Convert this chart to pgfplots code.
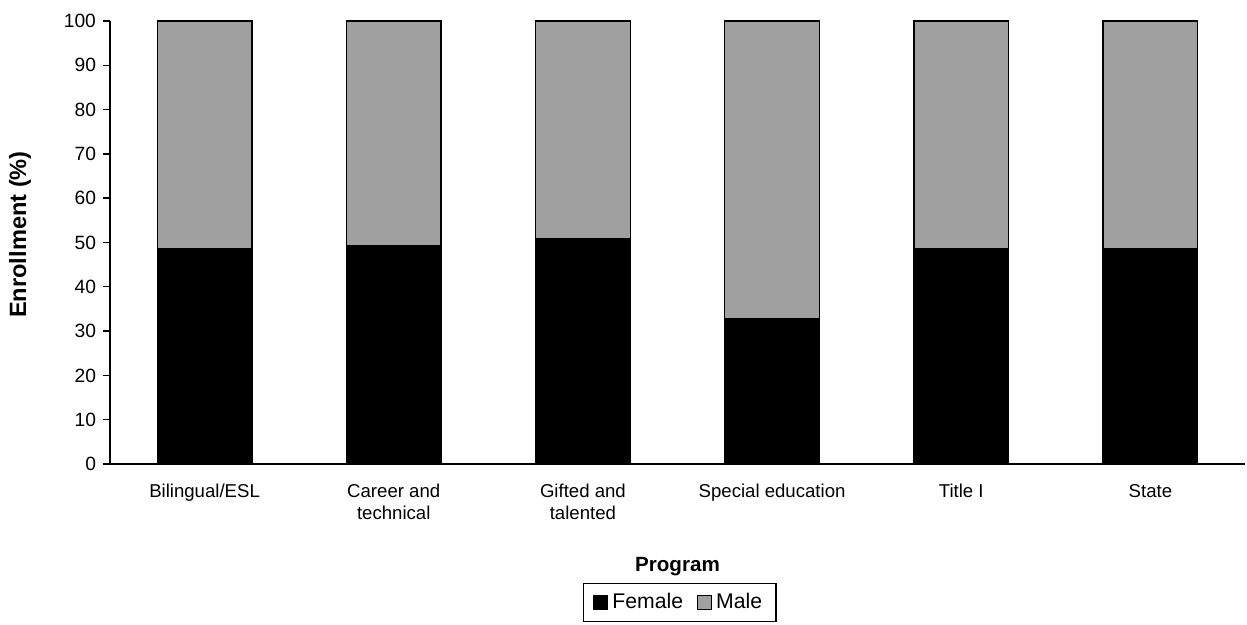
\documentclass[border=0pt]{standalone}
\usepackage{pgfplots}
\pgfplotsset{compat=1.18}
\usepackage{fontspec}
\setmainfont{Liberation Sans}
\definecolor{maleGray}{RGB}{160,160,160}
\begin{document}
\begin{tikzpicture}
\useasboundingbox (-55pt,-80.5pt) rectangle (568.5pt,232pt);
\begin{axis}[
  at={(0pt,0pt)}, anchor=south west,
  scale only axis, width=567.5pt, height=221.5pt,
  ybar stacked, bar width=0.5,
  xmin=-0.5, xmax=5.5, ymin=0, ymax=100,
  axis x line*=bottom, axis y line*=left,
  axis line style={-, line width=0.8pt},
  ytick={0,10,...,100},
  xtick={0,1,2,3,4,5},
  xticklabels={Bilingual/ESL, Career and\\technical, Gifted and\\talented, Special education, Title I, State},
  xtick style={draw=none},
  extra x ticks={-0.5,0.5,1.5,2.5,3.5,4.5,5.5},
  extra x tick labels={},
  extra x tick style={tick style={draw=black, line width=0.7pt}},
  ytick style={draw=black, line width=0.7pt},
  tick align=outside, major tick length=3.5pt,
  /pgf/number format/assume math mode=true,
  ticklabel style={font=\fontsize{9.6}{11}\selectfont},
  xticklabel style={align=center, yshift=-3pt, font=\fontsize{9.3}{11}\selectfont},
  yticklabel style={xshift=0pt},
  xlabel={Program}, ylabel={Enrollment (\%)},
  label style={font=\fontsize{10.3}{12}\selectfont\bfseries},
  xlabel style={at={(axis description cs:0.5,-0.2325)}, anchor=center},
  ylabel style={at={(axis description cs:-0.0793,0.518)}, anchor=center, font=\fontsize{11.8}{14}\selectfont\bfseries},
  legend style={at={(axis description cs:0.502,-0.268)}, anchor=north,
    legend columns=2, draw=black, line width=0.6pt,
    font=\fontsize{10.6}{12}\selectfont,
    /tikz/every even column/.append style={column sep=5pt},
    inner xsep=5pt, inner ysep=3pt},
  legend image code/.code={\draw[#1, line width=0.5pt] (0pt,-3.5pt) rectangle (7pt,3.5pt);},
]
\addplot[fill=black, draw=black, line width=0.7pt] coordinates {(0,48.5) (1,49.2) (2,50.8) (3,32.9) (4,48.7) (5,48.7)};
\addplot[fill=maleGray, draw=black, line width=0.7pt] coordinates {(0,51.5) (1,50.8) (2,49.2) (3,67.1) (4,51.3) (5,51.3)};
\legend{Female, Male}
\end{axis}
\end{tikzpicture}
\end{document}
